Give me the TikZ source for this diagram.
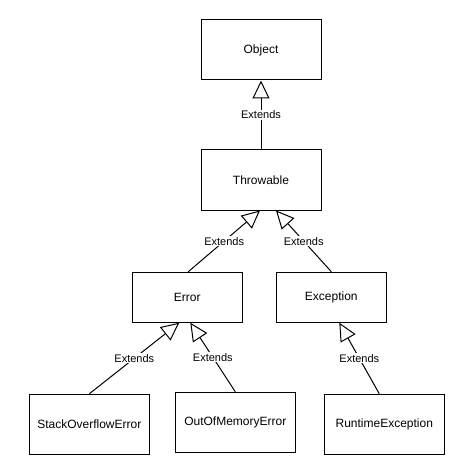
\documentclass[tikz,border=0pt]{standalone}
\usepackage{fontspec}
\setmainfont{Liberation Sans}
\usetikzlibrary{arrows.meta,calc}
\begin{document}
\begin{tikzpicture}[x=1pt,y=-1pt,
  box/.style={draw,line width=1pt,minimum width=120pt,minimum height=60pt,inner sep=0pt,font=\fontsize{12}{14}\selectfont},
  sbox/.style={box,minimum width=110pt,minimum height=50pt},
  ext/.style={draw,line width=1pt,-{Triangle[open,length=18pt,width=17pt]}},
  lbl/.style={fill=white,inner sep=1pt,font=\fontsize{11}{13}\selectfont}]
\useasboundingbox (0,0) rectangle (459,465);
\node[box] (obj) at (261,50) {Object};
\node[box] (thr) at (261,180) {Throwable};
\node[sbox] (err) at (187.3,297.2) {Error};
\node[sbox] (exc) at (331.3,297.2) {Exception};
\node[box] (soe) at (89.3,424.3) {StackOverflowError};
\node[box] (oom) at (235.3,422.3) {OutOfMemoryError};
\node[box] (re) at (384.3,424.3) {RuntimeException};
\draw[ext] (thr.north) -- (obj.south) node[midway,lbl] {Extends};
\draw[ext] ([xshift=1pt]err.north) -- ([xshift=-1pt]thr.south) node[midway,lbl] {Extends};
\draw[ext] (exc.north) -- ([xshift=15pt]thr.south) node[midway,lbl] {Extends};
\draw[ext] (soe.north) -- ([xshift=-8pt]err.south) node[midway,lbl] {Extends};
\draw[ext] (oom.north) -- ([xshift=3pt]err.south) node[midway,lbl] {Extends};
\draw[ext] ([xshift=-5pt]re.north) -- ([xshift=8pt]exc.south) node[midway,lbl] {Extends};
\end{tikzpicture}
\end{document}
